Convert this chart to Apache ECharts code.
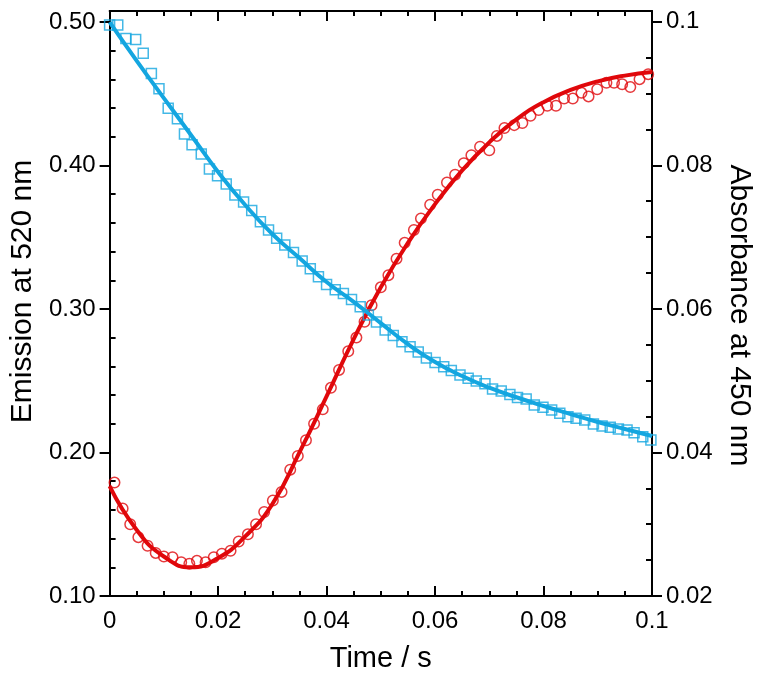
<!DOCTYPE html>
<html>
<head>
<meta charset="utf-8">
<script src="https://cdn.jsdelivr.net/npm/echarts@6/dist/echarts.min.js"></script>
<style>
  html, body { margin: 0; padding: 0; background: #fff; }
  #main { width: 762px; height: 680px; }
</style>
</head>
<body>
<div id="main"></div>
<script>
// emission at 520 nm (blue squares, left axis)
var emTimes = [0.0000, 0.0015, 0.0030, 0.0048, 0.0062, 0.0077, 0.0091, 0.0108, 0.0125, 0.0138,
  0.0152, 0.0169, 0.0184, 0.0199, 0.0215, 0.0231, 0.0247, 0.0262, 0.0278, 0.0293,
  0.0308, 0.0323, 0.0339, 0.0355, 0.0370, 0.0385, 0.0400, 0.0416, 0.0431, 0.0446,
  0.0462, 0.0477, 0.0492, 0.0508, 0.0523, 0.0539, 0.0554, 0.0569, 0.0584, 0.0600,
  0.0616, 0.0630, 0.0646, 0.0661, 0.0676, 0.0692, 0.0706, 0.0722, 0.0738, 0.0752,
  0.0768, 0.0783, 0.0799, 0.0815, 0.0830, 0.0845, 0.0860, 0.0876, 0.0892, 0.0908,
  0.0923, 0.0938, 0.0954, 0.0967, 0.0983, 0.0998];
var emValues = [0.4979, 0.4979, 0.4886, 0.4879, 0.4782, 0.4642, 0.4535, 0.4399, 0.4326, 0.4220,
  0.4145, 0.4080, 0.3976, 0.3929, 0.3871, 0.3794, 0.3746, 0.3686, 0.3608, 0.3551,
  0.3493, 0.3446, 0.3394, 0.3334, 0.3281, 0.3225, 0.3171, 0.3134, 0.3108, 0.3066,
  0.3016, 0.2958, 0.2909, 0.2854, 0.2815, 0.2772, 0.2737, 0.2700, 0.2659, 0.2627,
  0.2598, 0.2571, 0.2540, 0.2517, 0.2498, 0.2479, 0.2443, 0.2429, 0.2404, 0.2383,
  0.2373, 0.2331, 0.2315, 0.2296, 0.2273, 0.2249, 0.2238, 0.2226, 0.2199, 0.2185,
  0.2176, 0.2164, 0.2157, 0.2138, 0.2110, 0.2087];

// absorbance at 450 nm (red circles, right axis)
var absTimes = [0.0009, 0.0024, 0.0038, 0.0053, 0.0070, 0.0085, 0.0100, 0.0116, 0.0132, 0.0147,
  0.0161, 0.0177, 0.0192, 0.0207, 0.0223, 0.0238, 0.0255, 0.0270, 0.0285, 0.0301,
  0.0317, 0.0333, 0.0347, 0.0362, 0.0377, 0.0393, 0.0408, 0.0423, 0.0440, 0.0455,
  0.0470, 0.0483, 0.0500, 0.0514, 0.0529, 0.0544, 0.0561, 0.0574, 0.0591, 0.0605,
  0.0622, 0.0637, 0.0653, 0.0667, 0.0683, 0.0700, 0.0714, 0.0728, 0.0746, 0.0761,
  0.0776, 0.0791, 0.0807, 0.0823, 0.0838, 0.0854, 0.0870, 0.0883, 0.0899, 0.0916,
  0.0930, 0.0945, 0.0960, 0.0977, 0.0993];
var absValues = [0.0358, 0.0322, 0.0300, 0.0282, 0.0270, 0.0260, 0.0255, 0.0254, 0.0247, 0.0245,
  0.0249, 0.0247, 0.0254, 0.0259, 0.0263, 0.0276, 0.0286, 0.0300, 0.0317, 0.0333,
  0.0345, 0.0376, 0.0395, 0.0417, 0.0440, 0.0460, 0.0490, 0.0515, 0.0541, 0.0560,
  0.0582, 0.0605, 0.0630, 0.0647, 0.0670, 0.0692, 0.0710, 0.0726, 0.0745, 0.0759,
  0.0776, 0.0787, 0.0803, 0.0814, 0.0826, 0.0821, 0.0841, 0.0852, 0.0856, 0.0859,
  0.0869, 0.0877, 0.0883, 0.0883, 0.0893, 0.0893, 0.0901, 0.0896, 0.0906, 0.0915,
  0.0915, 0.0913, 0.0909, 0.0920, 0.0927];

// fitted curves
var fitTimes = [0, 0.005, 0.01, 0.015, 0.02, 0.025, 0.03, 0.035, 0.04, 0.045, 0.05,
  0.055, 0.06, 0.065, 0.07, 0.075, 0.08, 0.085, 0.09, 0.095, 0.1];
var emFit = [0.5000, 0.4730, 0.4470, 0.4213, 0.3955, 0.3725, 0.3523, 0.3355, 0.3188, 0.3050, 0.2902,
  0.2755, 0.2631, 0.2533, 0.2452, 0.2385, 0.2324, 0.2268, 0.2213, 0.2164, 0.2115];
var absFit = [0.0353, 0.0292, 0.0255, 0.0240, 0.0253, 0.0283, 0.0328, 0.0400, 0.0478, 0.0558, 0.0630,
  0.0692, 0.0746, 0.0793, 0.0832, 0.0864, 0.0888, 0.0905, 0.0917, 0.0925, 0.0930];

// ticks
var xTicks = [0, 0.02, 0.04, 0.06, 0.08, 0.1];
var leftTicks = [0.1, 0.2, 0.3, 0.4, 0.5];
var leftMinor = [0.12, 0.14, 0.16, 0.18, 0.22, 0.24, 0.26, 0.28, 0.32, 0.34, 0.36, 0.38,
  0.42, 0.44, 0.46, 0.48];
var rightTicks = [0.02, 0.04, 0.06, 0.08, 0.1];
var rightMinor = [0.025, 0.03, 0.035, 0.045, 0.05, 0.055, 0.065, 0.07, 0.075, 0.085, 0.09, 0.095];

var blue = '#14a6e0';
var red = '#e0080b';
var font = '"Liberation Sans", Arial, Helvetica, sans-serif';

function pairs(xs, ys) {
    return xs.map(function (x, i) { return [x, ys[i]]; });
}

var tickStyle = { color: '#000', width: 2 };
var axisLine = { show: true, onZero: false, lineStyle: tickStyle };
var noLine = { show: false, onZero: false };

var chart = echarts.init(document.getElementById('main'));
var option = {
    animation: false,
    textStyle: { fontFamily: font },
    grid: { left: 107, right: 110, top: 11, bottom: 84 },
    xAxis: [
        {
            type: 'value', position: 'bottom', min: 0, max: 0.1, interval: 0.02,
            name: 'Time / s', nameLocation: 'middle', nameGap: 48,
            nameTextStyle: { fontSize: 29, color: '#000', fontFamily: font },
            axisLine: axisLine,
            axisTick: { inside: true, length: 10, lineStyle: tickStyle },
            minorTick: { show: true, splitNumber: 4, length: 5, lineStyle: tickStyle },
            axisLabel: {
                color: '#000', fontSize: 24, margin: 13, fontFamily: font,
                customValues: xTicks,
                formatter: function (v) { return String(+v.toFixed(2)); }
            },
            splitLine: { show: false }
        },
        {
            type: 'value', position: 'top', min: 0, max: 0.1, interval: 0.02,
            axisLine: axisLine,
            axisTick: { inside: true, length: 10, lineStyle: tickStyle },
            minorTick: { show: true, splitNumber: 4, length: 5, lineStyle: tickStyle },
            axisLabel: { show: false },
            splitLine: { show: false }
        }
    ],
    yAxis: [
        {
            type: 'value', position: 'left', min: 0.1, max: 0.5077,
            name: 'Emission at 520 nm', nameLocation: 'middle', nameGap: 68, nameRotate: 90,
            nameTextStyle: { fontSize: 30, color: '#000', fontFamily: font, padding: [0, 0, 0, 24] },
            axisLine: axisLine,
            axisTick: { inside: false, length: 10, customValues: leftTicks, lineStyle: tickStyle },
            axisLabel: {
                color: '#000', fontSize: 24, margin: 14, fontFamily: font,
                customValues: leftTicks,
                formatter: function (v) { return v.toFixed(2); }
            },
            splitLine: { show: false }
        },
        {
            type: 'value', position: 'right', min: 0.02, max: 0.1015,
            name: 'Absorbance at 450 nm', nameLocation: 'middle', nameGap: 72, nameRotate: -90,
            nameTextStyle: { fontSize: 30, color: '#000', fontFamily: font, padding: [0, 0, 0, 24] },
            axisLine: axisLine,
            axisTick: { inside: false, length: 10, customValues: rightTicks, lineStyle: tickStyle },
            axisLabel: {
                color: '#000', fontSize: 24, margin: 14, fontFamily: font,
                customValues: rightTicks,
                formatter: function (v) { return String(+v.toFixed(2)); }
            },
            splitLine: { show: false }
        },
        {
            type: 'value', position: 'left', min: 0.1, max: 0.5077,
            axisLine: noLine,
            axisTick: { inside: true, length: 6, customValues: leftMinor, lineStyle: tickStyle },
            axisLabel: { show: false },
            splitLine: { show: false }
        },
        {
            type: 'value', position: 'right', min: 0.02, max: 0.1015,
            axisLine: noLine,
            axisTick: { inside: true, length: 6, customValues: rightMinor, lineStyle: tickStyle },
            axisLabel: { show: false },
            splitLine: { show: false }
        }
    ],
    series: [
        {
            name: 'absorbance fit', type: 'line', yAxisIndex: 1, smooth: true, showSymbol: false,
            data: pairs(fitTimes, absFit),
            lineStyle: { color: red, width: 4 }, z: 2
        },
        {
            name: 'emission fit', type: 'line', yAxisIndex: 0, smooth: true, showSymbol: false,
            data: pairs(fitTimes, emFit),
            lineStyle: { color: blue, width: 4 }, z: 2
        },
        {
            name: 'absorbance', type: 'scatter', yAxisIndex: 1, symbol: 'circle', symbolSize: 10.5,
            data: pairs(absTimes, absValues),
            itemStyle: { color: 'rgba(0,0,0,0)', borderColor: red, borderWidth: 1.5 }, z: 3
        },
        {
            name: 'emission', type: 'scatter', yAxisIndex: 0, symbol: 'rect', symbolSize: 10,
            data: pairs(emTimes, emValues),
            itemStyle: { color: 'rgba(0,0,0,0)', borderColor: blue, borderWidth: 1.5 }, z: 3
        }
    ]
};
chart.setOption(option);
</script>
</body>
</html>
